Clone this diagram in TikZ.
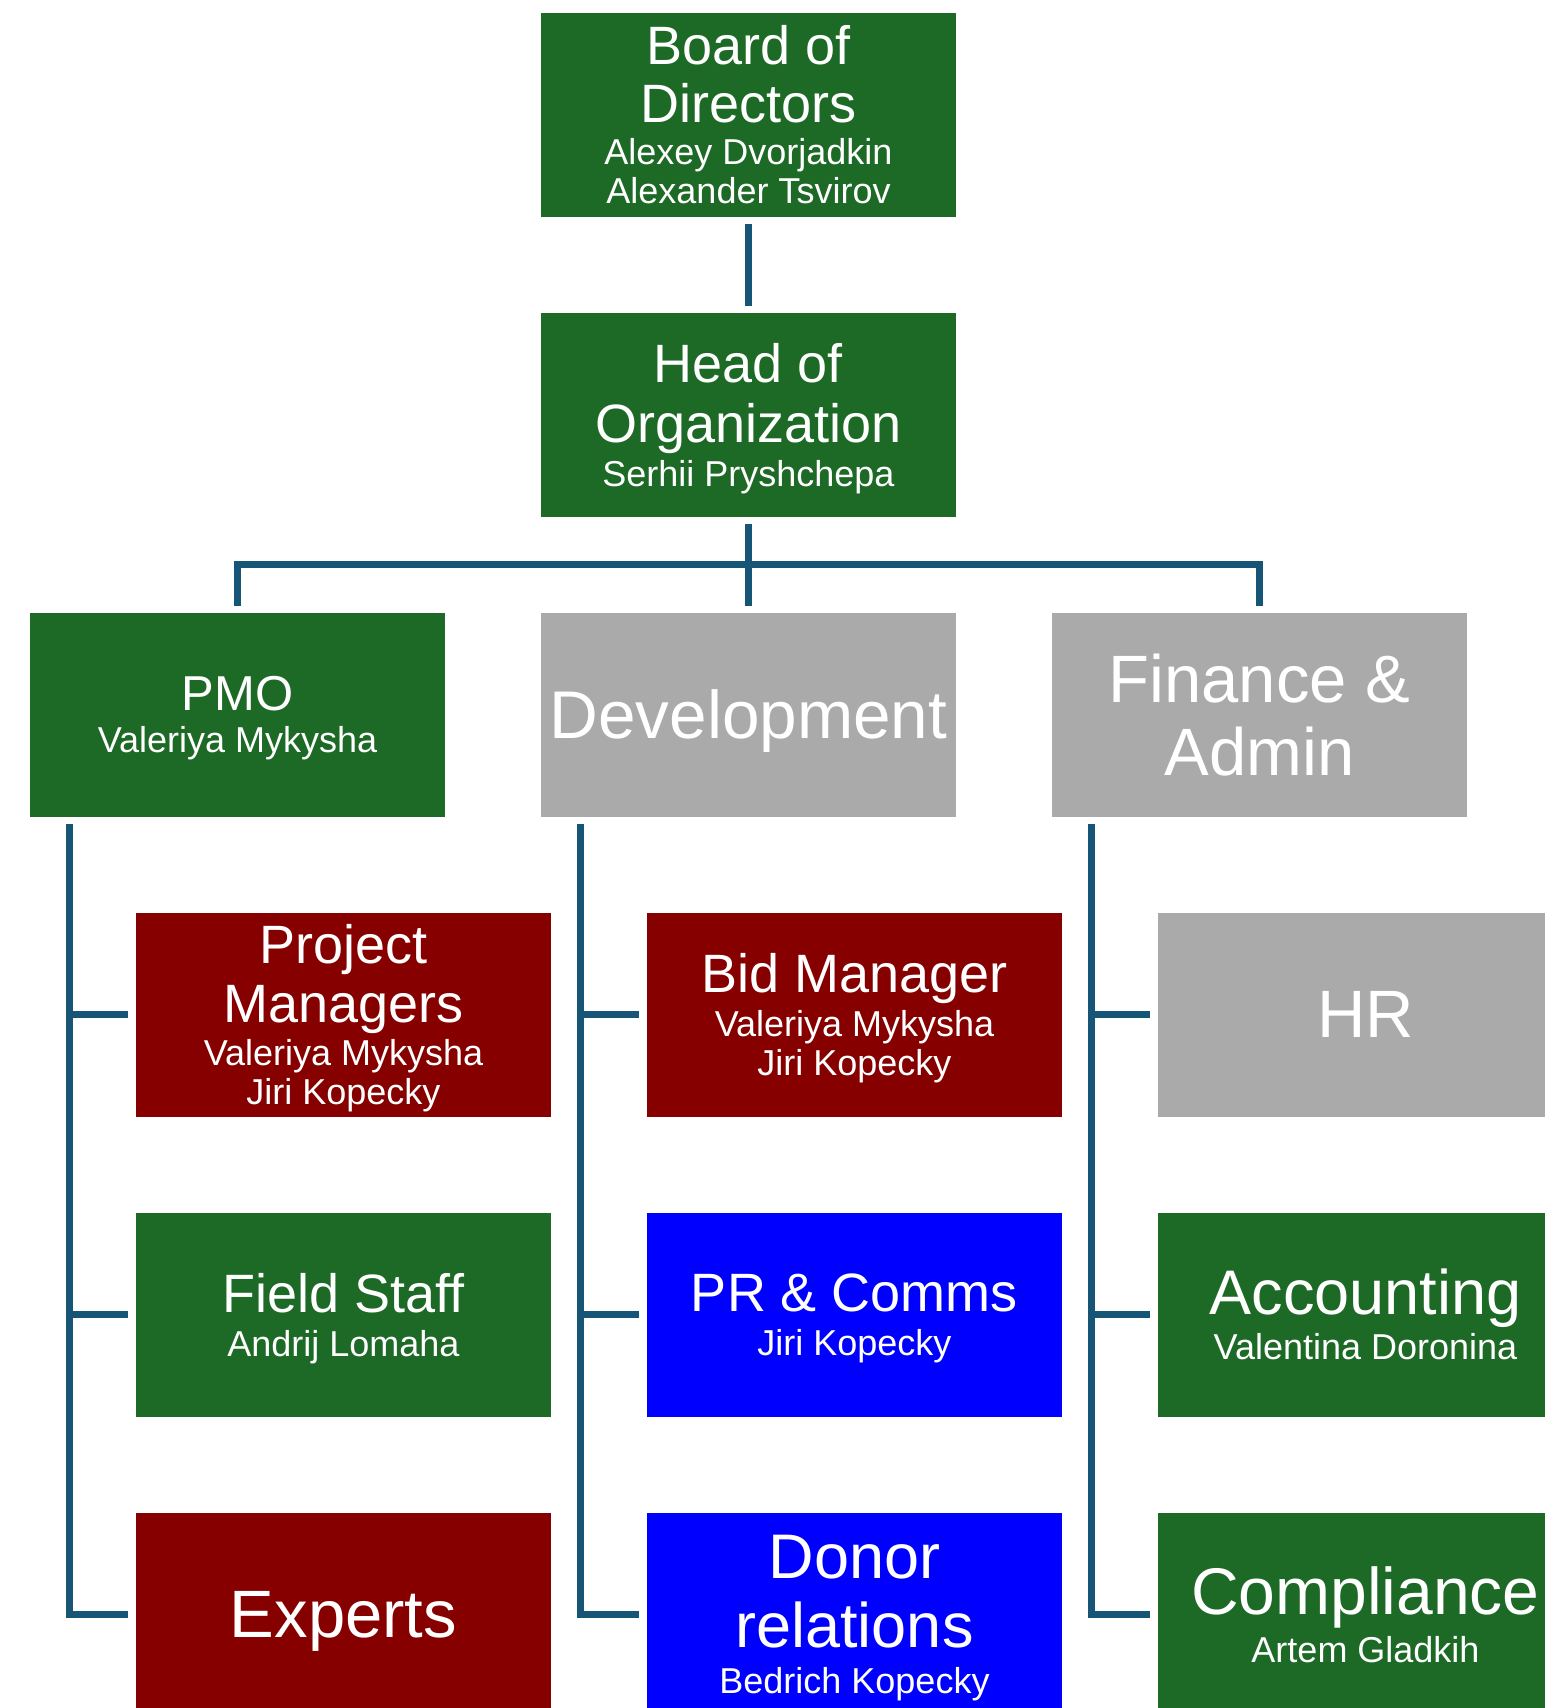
\documentclass[tikz,border=0pt]{standalone}
\usepackage{fontspec}
\setmainfont{Liberation Sans}
\usepackage{xcolor}
\usepackage{tikz}
\usetikzlibrary{positioning}

\definecolor{orggreen}{RGB}{28,106,37}
\definecolor{orgred}{RGB}{134,0,0}
\definecolor{orgblue}{RGB}{0,0,255}
\definecolor{orggrey}{RGB}{170,170,170}
\definecolor{linkblue}{RGB}{22,85,118}

\newcommand{\staff}[1]{{\fontsize{18}{19}\selectfont #1}}

\begin{document}
\begin{tikzpicture}[
  x=0.5pt, y=-0.5pt,
  node distance=48pt,
  unit/.style={minimum width=207.5pt, minimum height=102pt, inner sep=0pt,
    outer sep=0pt, text depth=0pt, align=center, text=white,
    font=\fontsize{27}{29.5}\selectfont},
  greenbox/.style={unit, fill=orggreen},
  redbox/.style={unit, fill=orgred},
  bluebox/.style={unit, fill=orgblue},
  greybox/.style={unit, fill=orggrey},
  link/.style={draw=linkblue, line width=3.5pt}
]
  \useasboundingbox (0,0) rectangle (1545,1708);

  \node[greenbox, font=\fontsize{27}{29}\selectfont] (board) at (748.5,114.5)
    {Board of\\Directors\\[-8pt]\staff{Alexey Dvorjadkin}\\[-9.5pt]\staff{Alexander Tsvirov}};
  \node[greenbox, below=of board, font=\fontsize{27}{30}\selectfont] (head)
    {Head of\\Organization\\[-8pt]\staff{Serhii Pryshchepa}};

  \node[greybox, below=of head, font=\fontsize{33.75}{40}\selectfont] (dev) {Development};
  \node[greenbox, left=of dev, font=\fontsize{24.5}{30}\selectfont] (pmo)
    {PMO\\[-9pt]\staff{Valeriya Mykysha}};
  \node[greybox, right=of dev, font=\fontsize{33.5}{36.5}\selectfont] (fin) {Finance \&\\Admin};

  \node[redbox, below=of pmo, xshift=53pt] (pm)
    {Project\\Managers\\[-8pt]\staff{Valeriya Mykysha}\\[-10pt]\staff{Jiri Kopecky}};
  \node[greenbox, below=of pm] (field) {Field Staff\\[-7.5pt]\staff{Andrij Lomaha}};
  \node[redbox, below=of field, font=\fontsize{33.5}{40}\selectfont] (experts) {Experts};

  \node[redbox, below=of dev, xshift=53pt] (bid)
    {Bid Manager\\[-7.5pt]\staff{Valeriya Mykysha}\\[-10pt]\staff{Jiri Kopecky}};
  \node[bluebox, below=of bid] (pr) {PR \& Comms\\[-7.5pt]\staff{Jiri Kopecky}};
  \node[bluebox, below=of pr, font=\fontsize{31.5}{34.5}\selectfont] (donor)
    {Donor\\relations\\[-11.5pt]\staff{Bedrich Kopecky}};

  \node[greybox, below=of fin, xshift=53pt, font=\fontsize{33.5}{40}\selectfont] (hr) {HR};
  \node[greenbox, below=of hr, font=\fontsize{31.5}{35}\selectfont] (acc)
    {Accounting\\[-12.5pt]\staff{Valentina Doronina}};
  \node[greenbox, below=of acc, font=\fontsize{33}{35}\selectfont] (comp)
    {Compliance\\[-11pt]\staff{Artem Gladkih}};

  \path (head.south) -- (dev.north) coordinate[midway] (bus);
  \coordinate (pmospine) at ([xshift=19.5pt]pmo.south west);
  \coordinate (devspine) at ([xshift=19.5pt]dev.south west);
  \coordinate (finspine) at ([xshift=19.5pt]fin.south west);

  \draw[link, shorten <=3.5pt, shorten >=3.5pt] (board) -- (head);
  \draw[link, shorten <=3.5pt, shorten >=3.5pt] (head) -- (dev);
  \draw[link, shorten <=3.5pt, shorten >=3.5pt] (pmo.north) |- (bus) -| (fin.north);

  \draw[link, shorten <=3.5pt, shorten >=4pt] (pmospine) |- (experts.west);
  \draw[link, shorten >=4pt] (pmospine |- pm.west) -- (pm.west);
  \draw[link, shorten >=4pt] (pmospine |- field.west) -- (field.west);

  \draw[link, shorten <=3.5pt, shorten >=4pt] (devspine) |- (donor.west);
  \draw[link, shorten >=4pt] (devspine |- bid.west) -- (bid.west);
  \draw[link, shorten >=4pt] (devspine |- pr.west) -- (pr.west);

  \draw[link, shorten <=3.5pt, shorten >=4pt] (finspine) |- (comp.west);
  \draw[link, shorten >=4pt] (finspine |- hr.west) -- (hr.west);
  \draw[link, shorten >=4pt] (finspine |- acc.west) -- (acc.west);
\end{tikzpicture}
\end{document}
